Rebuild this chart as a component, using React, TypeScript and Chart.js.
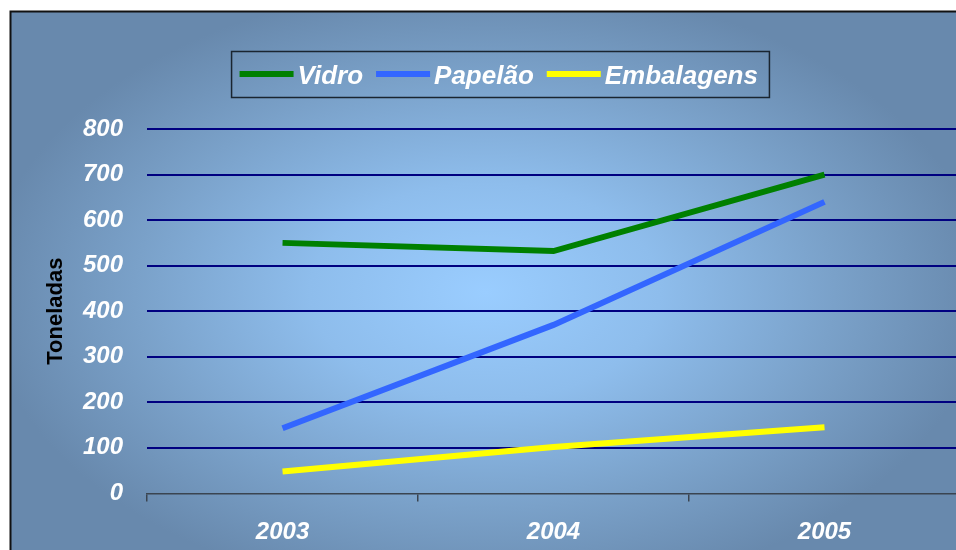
import React, { useEffect, useRef } from "react";
import { Chart, registerables } from "chart.js";

Chart.register(...registerables);

const categories = ["2003", "2004", "2005"];
const seriesNames = ["Vidro", "Papelão", "Embalagens"];
const vidro = [550, 532, 700];
const papelao = [143, 370, 640];
const embalagens = [48, 102, 145];
const seriesColors = ["#008000", "#3366FF", "#FFFF00"];
const yMin = 0;
const yMax = 800;
const yStep = 100;
const yTitle = "Toneladas";

const FONT = '"Liberation Sans", Arial, Helvetica, sans-serif';

const backgroundPlugin = {
  id: "pptBackground",
  beforeDraw(chart: any) {
    const { ctx, width, height } = chart;
    ctx.save();
    ctx.fillStyle = "#ffffff";
    ctx.fillRect(0, 0, width, height);
    const fx = 10.5;
    const fy = 11.5;
    const cx = 485;
    const cy = 292;
    const sy = 0.62;
    ctx.save();
    ctx.beginPath();
    ctx.rect(fx, fy, width, height);
    ctx.clip();
    ctx.translate(cx, cy);
    ctx.scale(1, sy);
    const g = ctx.createRadialGradient(0, 0, 0, 0, 0, 500);
    g.addColorStop(0, "#9ACDFF");
    g.addColorStop(0.35, "#8EBDEC");
    g.addColorStop(0.7, "#7AA1C9");
    g.addColorStop(1, "#6889AD");
    ctx.fillStyle = g;
    ctx.fillRect(-cx, -cy / sy, width * 2, (height * 2) / sy);
    ctx.restore();
    ctx.strokeStyle = "#111111";
    ctx.lineWidth = 2;
    ctx.beginPath();
    ctx.moveTo(fx, height + 10);
    ctx.lineTo(fx, fy);
    ctx.lineTo(width + 10, fy);
    ctx.stroke();
    ctx.restore();
  },
};

const legendPlugin = {
  id: "boxedLegend",
  afterDraw(chart: any) {
    const { ctx } = chart;
    ctx.save();
    ctx.font = `italic bold 26px ${FONT}`;
    const lineW = 54;
    const gapText = 4;
    const gapItem = 13;
    const items = chart.data.datasets.map((d: any) => ({
      label: d.label,
      color: d.borderColor,
      w: ctx.measureText(d.label).width,
    }));
    let total = 0;
    items.forEach((it: any, i: number) => {
      total += lineW + gapText + it.w + (i > 0 ? gapItem : 0);
    });
    const centerX = 498.75;
    let x = centerX - total / 2;
    const boxL = x - 8;
    const boxR = x + total + 11.5;
    const boxT = 51.5;
    const boxB = 97.5;
    ctx.strokeStyle = "#1A2530";
    ctx.lineWidth = 1.5;
    ctx.strokeRect(boxL, boxT, boxR - boxL, boxB - boxT);
    const lineY = 74;
    items.forEach((it: any) => {
      ctx.strokeStyle = it.color;
      ctx.lineWidth = 6;
      ctx.beginPath();
      ctx.moveTo(x, lineY);
      ctx.lineTo(x + lineW, lineY);
      ctx.stroke();
      x += lineW + gapText;
      ctx.fillStyle = "#ffffff";
      ctx.textBaseline = "alphabetic";
      ctx.textAlign = "left";
      ctx.fillText(it.label, x, 84);
      x += it.w + gapItem;
    });
    ctx.restore();
  },
};

export default function App() {
  const canvasRef = useRef<HTMLCanvasElement | null>(null);

  useEffect(() => {
    const canvas = canvasRef.current;
    if (!canvas) return;
    const seriesValues = [vidro, papelao, embalagens];
    const chart = new Chart(canvas, {
      type: "line",
      data: {
        labels: categories,
        datasets: seriesNames.map((name, i) => ({
          label: name,
          data: seriesValues[i],
          borderColor: seriesColors[i],
          backgroundColor: seriesColors[i],
          borderWidth: 6,
          pointRadius: 0,
          pointHoverRadius: 0,
          tension: 0,
          fill: false,
          borderCapStyle: "butt",
          borderJoinStyle: "miter",
        })),
      },
      options: {
        responsive: false,
        animation: false,
        devicePixelRatio: 1,
        layout: { padding: { top: 129, left: 42.8, right: 10, bottom: 3.6 } },
        plugins: {
          legend: { display: false },
          tooltip: { enabled: false },
          title: { display: false },
        },
        scales: {
          x: {
            type: "category",
            offset: true,
            grid: {
              offset: true,
              drawOnChartArea: false,
              drawTicks: true,
              tickLength: 8,
              color: "#3A4450",
              lineWidth: 1.5,
            },
            border: { display: true, color: "#3A4450", width: 1.5 },
            ticks: {
              color: "#ffffff",
              font: { family: FONT, size: 24, style: "italic", weight: "bold" },
              padding: 16.6,
              maxRotation: 0,
              autoSkip: false,
            },
          },
          y: {
            min: yMin,
            max: yMax,
            grid: {
              color: (c: any) => (c.tick && c.tick.value === 0 ? "rgba(0,0,0,0)" : "#000080"),
              lineWidth: 2,
              drawTicks: false,
            },
            border: { display: false },
            ticks: {
              stepSize: yStep,
              color: "#ffffff",
              font: { family: FONT, size: 24, style: "italic", weight: "bold" },
              padding: 24,
            },
            title: {
              display: true,
              text: yTitle,
              color: "#000000",
              font: { family: FONT, size: 22, weight: "bold" },
              padding: { top: 0, bottom: -10.2 },
            },
          },
        },
      },
      plugins: [backgroundPlugin, legendPlugin],
    } as any);
    return () => chart.destroy();
  }, []);

  return (
    <div
      style={{
        position: "fixed",
        left: 0,
        top: 0,
        width: 956,
        height: 550,
        overflow: "hidden",
        background: "#ffffff",
      }}
    >
      <canvas
        ref={canvasRef}
        width={970}
        height={567}
        style={{ display: "block", width: 970, height: 567 }}
      />
    </div>
  );
}
